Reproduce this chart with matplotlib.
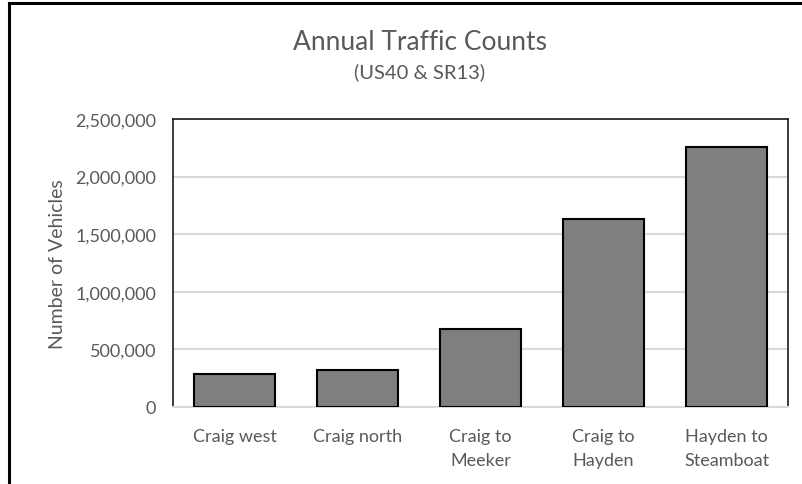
import matplotlib
matplotlib.use("Agg")
import matplotlib.pyplot as plt
from matplotlib.ticker import FuncFormatter
from matplotlib.lines import Line2D

categories = ["Craig west", "Craig north", "Craig to\nMeeker", "Craig to\nHayden", "Hayden to\nSteamboat"]
values = [285000, 324000, 678000, 1633000, 2255000]
yticks = [0, 500000, 1000000, 1500000, 2000000, 2500000]

plt.rcParams['font.family'] = ['Lato', 'DejaVu Sans']
txt = '#595959'

fig = plt.figure(figsize=(8.03, 4.85), dpi=100)
W, H = 803, 485
ax = fig.add_axes([173 / W, 1 - 408 / H, (788 - 173) / W, (408 - 120) / H])

x = range(len(categories))
ax.bar(x, values, width=0.66, color='#7f7f7f', edgecolor='black', linewidth=1.5, zorder=3)
ax.set_xlim(-0.5, len(categories) - 0.5)
ax.set_ylim(0, 2500000)
ax.set_yticks(yticks)
ax.yaxis.set_major_formatter(FuncFormatter(lambda v, p: f"{int(v):,}"))
ax.set_xticks(list(x))
ax.set_xticklabels(categories, color=txt, fontsize=13, linespacing=1.65)
ax.tick_params(axis='y', colors=txt, labelsize=13, length=0, pad=12)
ax.tick_params(axis='x', length=0, pad=15)
ax.grid(axis='y', color='#d9d9d9', linewidth=1.5, zorder=0)
for s in ['left', 'top', 'right']:
    ax.spines[s].set_color('#1a1a1a')
    ax.spines[s].set_linewidth(1.2)
ax.spines['bottom'].set_color('#d9d9d9')
ax.spines['bottom'].set_linewidth(1.5)
ax.set_ylabel("Number of Vehicles", color=txt, fontsize=14, labelpad=7)

fig.text(420 / W, 1 - 43 / H, "Annual Traffic Counts", ha='center', va='center', fontsize=19, color=txt)
fig.text(420 / W, 1 - 72 / H, "(US40 & SR13)", ha='center', va='center', fontsize=14.5, color=txt)

fig.add_artist(Line2D([9 / W, 9 / W], [0, 1 - 4 / H], transform=fig.transFigure, color='black', linewidth=2.2))
fig.add_artist(Line2D([9 / W, 1], [1 - 4 / H, 1 - 4 / H], transform=fig.transFigure, color='black', linewidth=2.2))

fig.savefig("out.png", dpi=100)
